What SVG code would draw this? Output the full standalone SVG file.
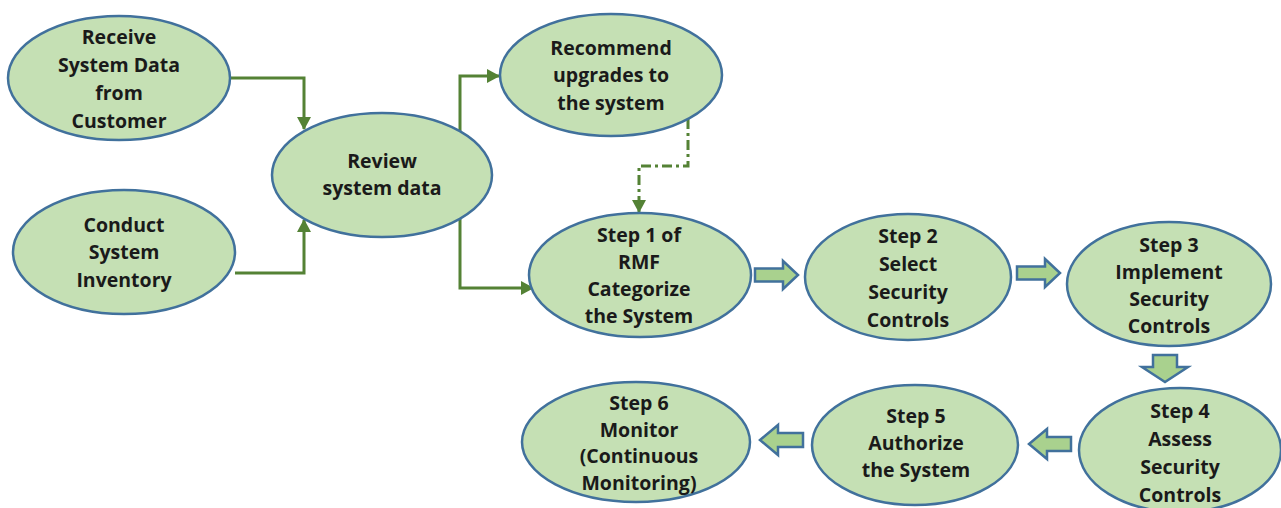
<svg xmlns="http://www.w3.org/2000/svg" width="1281" height="508" viewBox="0 0 1281 508">
<style>
.node ellipse{fill:#c5e0b4;stroke:#41719c;stroke-width:2.5}
.node text{font-family:"Open Sans","Noto Sans","Liberation Sans",sans-serif;font-weight:700;font-size:19.5px;fill:#1a1a1a;text-anchor:middle}
.conn{fill:none;stroke:#548235;stroke-width:3}
.dash{stroke-dasharray:10 4 3 4}
.blk{fill:#a9d18e;stroke:#41719c;stroke-width:2.5;stroke-linejoin:miter}
</style>
<defs>
<marker id="ah" markerUnits="userSpaceOnUse" markerWidth="14" markerHeight="14" refX="12" refY="7" orient="auto">
<path d="M0,0 L13,7 L0,14 z" fill="#548235"/>
</marker>
</defs>
<rect width="1281" height="508" fill="#ffffff"/>

<g id="connectors">
<path class="conn" d="M230,78 H304 V129" marker-end="url(#ah)"/>
<path class="conn" d="M235,273 H304 V220" marker-end="url(#ah)"/>
<path class="conn" d="M460,131 V76 H499" marker-end="url(#ah)"/>
<path class="conn" d="M460,219 V288 H533" marker-end="url(#ah)"/>
<path class="conn dash" d="M688,119 V166 H639 V212" marker-end="url(#ah)"/>
<path class="blk" d="M755,268.5 H783 V261 L798,275 L783,289 V281.5 H755 Z"/>
<path class="blk" d="M1017,266.5 H1045 V259 L1060,273 L1045,287 V279.5 H1017 Z"/>
<path class="blk" d="M1153,355 V367 H1142 L1165,382 L1188,367 H1177 V355 Z"/>
<path class="blk" d="M1071,437 H1047 V429 L1029,444 L1047,459 V451 H1071 Z"/>
<path class="blk" d="M803,433 H778 V425 L760,440 L778,455 V447 H803 Z"/>
</g>

<g id="receive" class="node">
<ellipse cx="119" cy="78" rx="111" ry="62"/>
<text x="119" y="44">Receive</text>
<text x="119" y="72">System Data</text>
<text x="119" y="100">from</text>
<text x="119" y="128">Customer</text>
</g>

<g id="conduct" class="node">
<ellipse cx="124" cy="252" rx="111" ry="62"/>
<text x="124" y="232">Conduct</text>
<text x="124" y="259">System</text>
<text x="124" y="287">Inventory</text>
</g>

<g id="review" class="node">
<ellipse cx="382" cy="175" rx="110" ry="62"/>
<text x="382" y="168">Review</text>
<text x="382" y="195">system data</text>
</g>

<g id="recommend" class="node">
<ellipse cx="611" cy="75" rx="111" ry="61"/>
<text x="611" y="55">Recommend</text>
<text x="611" y="82">upgrades to</text>
<text x="611" y="110">the system</text>
</g>

<g id="step1" class="node">
<ellipse cx="640" cy="275" rx="111" ry="62"/>
<text x="639" y="242">Step 1 of</text>
<text x="639" y="269">RMF</text>
<text x="639" y="296">Categorize</text>
<text x="639" y="323">the System</text>
</g>

<g id="step2" class="node">
<ellipse cx="908" cy="277" rx="103" ry="63"/>
<text x="908" y="243">Step 2</text>
<text x="908" y="271">Select</text>
<text x="908" y="299">Security</text>
<text x="908" y="327">Controls</text>
</g>

<g id="step3" class="node">
<ellipse cx="1169" cy="284" rx="102" ry="62"/>
<text x="1169" y="252">Step 3</text>
<text x="1169" y="279">Implement</text>
<text x="1169" y="306">Security</text>
<text x="1169" y="333">Controls</text>
</g>

<g id="step4" class="node">
<ellipse cx="1180" cy="450" rx="101" ry="62"/>
<text x="1180" y="418">Step 4</text>
<text x="1180" y="446">Assess</text>
<text x="1180" y="474">Security</text>
<text x="1180" y="502">Controls</text>
</g>

<g id="step5" class="node">
<ellipse cx="915" cy="445" rx="103" ry="60"/>
<text x="916" y="423">Step 5</text>
<text x="916" y="450">Authorize</text>
<text x="916" y="477">the System</text>
</g>

<g id="step6" class="node">
<ellipse cx="636" cy="442" rx="114" ry="60"/>
<text x="639" y="410">Step 6</text>
<text x="639" y="437">Monitor</text>
<text x="639" y="463">(Continuous</text>
<text x="639" y="490">Monitoring)</text>
</g>
</svg>
